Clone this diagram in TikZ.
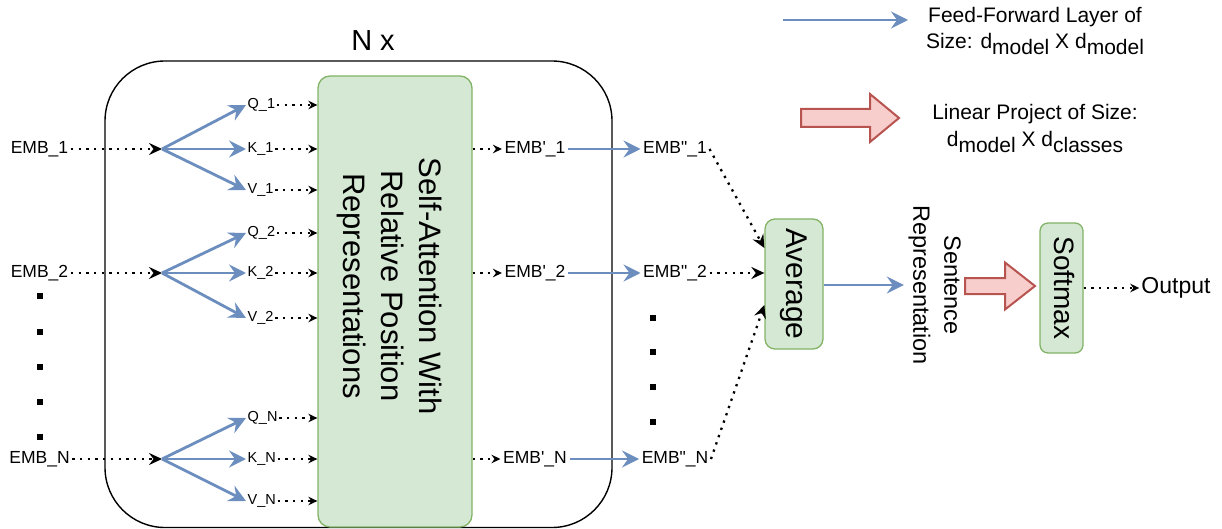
\documentclass[tikz,border=0pt]{standalone}
\usepackage{fontspec}
\usepackage{graphicx}
\setmainfont{Liberation Sans}
\usetikzlibrary{arrows.meta,calc}
\definecolor{ffblue}{RGB}{108,142,191}
\definecolor{gfill}{RGB}{213,232,212}
\definecolor{gline}{RGB}{130,179,102}
\definecolor{rfill}{RGB}{248,206,204}
\definecolor{rline}{RGB}{184,84,80}
\newcommand\fsz[2]{\fontsize{#1}{#2}\selectfont}
\newcommand\sbx[1]{\raisebox{-0.26em}{#1}}
\newcommand\rottab[1]{\rotatebox{-90}{\begin{tabular}{@{}c@{}}#1\end{tabular}}}
\newcommand\sq{\textquotesingle}
\newcommand\dq{\textquotedbl}
\begin{document}
\begin{tikzpicture}[x=1pt,y=-1pt,
  emb/.style={inner sep=2.5pt, font=\fsz{17.5}{20}},
  qkv/.style={inner sep=1.5pt, anchor=west, font=\fsz{14.5}{17}},
  ff/.style={draw=ffblue, line width=2.8pt, -{Stealth[length=17pt,width=17pt,inset=6pt,fill=ffblue]}},
  dotbig/.style={line width=2.3pt, dash pattern=on 2.3pt off 5.4pt, -{Stealth[length=13pt,width=12pt,inset=4.5pt]}},
  dotsmall/.style={line width=2.3pt, dash pattern=on 2.3pt off 5.4pt, -{Stealth[length=9pt,width=8.5pt,inset=3pt]}},
  gbox/.style={draw=gline, fill=gfill, line width=1.3pt, rounded corners=12, inner sep=0pt},
  redarrow/.style={draw=rline, fill=rfill, line width=2pt, line join=miter},
  sqr/.style={fill=black},
]
\useasboundingbox (0,0) rectangle (1222,529);

% outer repeated block
\draw[line width=1.4pt, rounded corners=60] (105,61) rectangle (612,527.5);
\node[anchor=base, inner sep=0pt, font=\fsz{29}{34}] (nx) at (373,51) {N x};

% self-attention box
\node[gbox, minimum width=154, minimum height=451] (sa) at (395,301.5) {};
\node[inner sep=0pt, font=\fsz{31}{38}] (satxt) at (389,286)
  {\rottab{Self-Attention With\\Relative Position\\Representations}};

% input embeddings
\node[emb] (e1) at (39.5,149) {EMB\_1};
\node[emb] (e2) at (39.5,273) {EMB\_2};
\node[emb] (en) at (39.5,459) {EMB\_N};

\coordinate (f1) at (162,149);
\coordinate (f2) at (162,273);
\coordinate (fn) at (162,459);

\draw[dotbig] (e1.east) -- (f1);
\draw[dotbig] (e2.east) -- (f2);
\draw[dotbig] (en.east) -- (fn);

% Q K V labels
\node[qkv] (q1) at (246,105) {Q\_1};
\node[qkv] (k1) at (246,149) {K\_1};
\node[qkv] (v1) at (246,190) {V\_1};
\node[qkv] (q2) at (246,233) {Q\_2};
\node[qkv] (k2) at (246,273) {K\_2};
\node[qkv] (v2) at (246,318) {V\_2};
\node[qkv] (qn) at (246,418) {Q\_N};
\node[qkv] (kn) at (246,459) {K\_N};
\node[qkv] (vn) at (246,501) {V\_N};

\foreach \f/\a/\b/\c in {f1/q1/k1/v1, f2/q2/k2/v2, fn/qn/kn/vn}{
  \draw[ff] (\f) -- (\a.west);
  \draw[ff] (\f) -- (\b.west);
  \draw[ff] (\f) -- (\c.west);
  \draw[dotsmall] (\a.east) -- (\a.east -| sa.west);
  \draw[dotsmall] (\b.east) -- (\b.east -| sa.west);
  \draw[dotsmall] (\c.east) -- (\c.east -| sa.west);
}

% left vertical dots
\foreach \yy in {296,332,367,402,437}{
  \fill[sqr] (37,\yy-3) rectangle (43,\yy+3);
}

% outputs of self-attention
\node[emb] (p1) at (535,149) {EMB\sq\_1};
\node[emb] (p2) at (535,273) {EMB\sq\_2};
\node[emb] (pn) at (535,459) {EMB\sq\_N};
\node[emb] (d1) at (675,149) {EMB\dq\_1};
\node[emb] (d2) at (675,273) {EMB\dq\_2};
\node[emb] (dn) at (675,459) {EMB\dq\_N};

\draw[dotsmall] (sa.east |- p1) -- (p1.west);
\draw[dotsmall] (sa.east |- p2) -- (p2.west);
\draw[dotsmall] (sa.east |- pn) -- (pn.west);
\draw[ff] (p1.east) -- (d1.west);
\draw[ff] (p2.east) -- (d2.west);
\draw[ff] (pn.east) -- (dn.west);

% right vertical dots
\foreach \yy in {318,352,387,422}{
  \fill[sqr] (650,\yy-3) rectangle (656,\yy+3);
}

% average
\node[gbox, minimum width=58, minimum height=130, rounded corners=10, font=\fsz{30}{36}] (avg) at (794,284) {\rottab{Average}};
\draw[dotbig] (d1.east) -- ($(avg.west)+(0,-36)$);
\draw[dotbig] (d2.east) -- (d2.east -| avg.west);
\draw[dotbig] (dn.east) -- ($(avg.west)+(0,21)$);

% sentence representation
\node[inner sep=0pt, font=\fsz{23.5}{31}] (sr) at (935,285) {\rottab{Sentence\\Representation}};
\draw[ff] (avg.east |- 0,285) -- (sr.west |- 0,285);

% softmax
\node[gbox, minimum width=43, minimum height=130, rounded corners=8, font=\fsz{28}{34}] (sm) at (1061.5,288) {\rottab{Softmax}};
\draw[redarrow] (965,278) -- (1005,278) -- (1005,262.5) -- (1035,286) -- (1005,309.5) -- (1005,294) -- (965,294) -- cycle;

\node[inner sep=2pt, font=\fsz{23}{27}] (out) at (1176,288) {Output};
\draw[dotsmall] (sm.east) -- (out.west);

% legend
\coordinate (l1a) at (783,20);
\coordinate (l1b) at (908,20);
\draw[ff] (l1a) -- (l1b);
\node[align=center, inner sep=0pt, font=\fsz{21}{26}] (lt1) at (1035,31)
  {Feed-Forward Layer of\\Size: d\sbx{model} X d\sbx{model}};

\draw[redarrow] (801,109) -- (870,109) -- (870,94) -- (899,118) -- (870,142) -- (870,127) -- (801,127) -- cycle;
\node[align=center, inner sep=0pt, font=\fsz{21}{27}] (lt2) at (1035,128.5)
  {Linear Project of Size:\\d\sbx{model} X d\sbx{classes}};
\end{tikzpicture}
\end{document}
